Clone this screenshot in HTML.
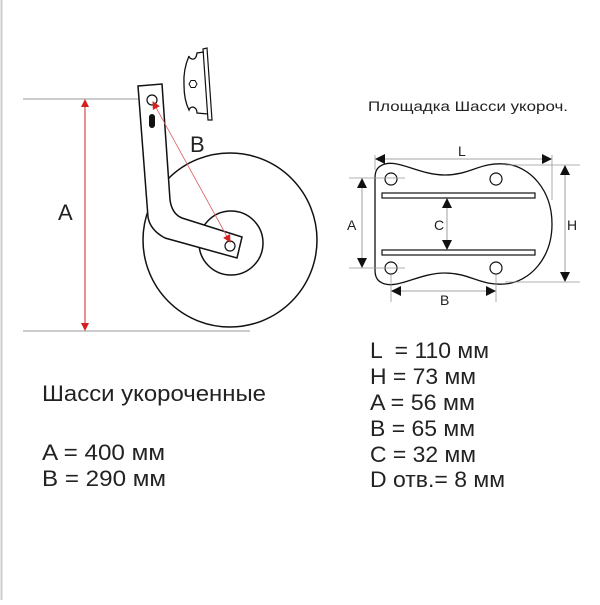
<!DOCTYPE html>
<html><head><meta charset="utf-8"><style>
body{margin:0;background:#fff}
svg text{font-family:"Liberation Sans",sans-serif;fill:#222}
</style></head><body>
<svg width="600" height="600" viewBox="0 0 600 600" xmlns="http://www.w3.org/2000/svg">
<defs>
<marker id="ra" markerWidth="8" markerHeight="8" refX="7" refY="4" orient="auto-start-reverse" markerUnits="userSpaceOnUse"><path d="M0,0 L8,4 L0,8z" fill="#d42020"/></marker>
<marker id="ba" markerWidth="10" markerHeight="10" refX="9" refY="5" orient="auto-start-reverse" markerUnits="userSpaceOnUse"><path d="M0,0 L10,5 L0,10z" fill="#111"/></marker>
</defs>
<line x1="1.5" y1="0" x2="1.5" y2="600" stroke="#ccc" stroke-width="2"/>
<line x1="23" y1="99" x2="150" y2="99" stroke="#999" stroke-width="1"/>
<line x1="23" y1="331" x2="250" y2="331" stroke="#999" stroke-width="1"/>
<line x1="85" y1="100" x2="85" y2="330" stroke="#d42020" stroke-width="1" marker-start="url(#ra)" marker-end="url(#ra)"/>
<text x="58" y="220" font-size="22">A</text>
<circle cx="230" cy="240" r="87" fill="#fff" stroke="#111" stroke-width="1.5"/>
<circle cx="231" cy="243" r="32" fill="#fff" stroke="#111" stroke-width="1.5"/>
<path d="M138,86 L162,84 L170,200 Q172,214 182,218 L242,237 L237,258 L165,238 Q150,230 148,217 Z" fill="#fff" stroke="#111" stroke-width="1.5"/>
<circle cx="152" cy="100" r="5" fill="#fff" stroke="#111" stroke-width="1.2"/>
<rect x="149" y="114" width="6" height="14" rx="3" fill="#111"/>
<circle cx="230" cy="246" r="5" fill="#fff" stroke="#111" stroke-width="1.2"/>
<line x1="153" y1="102" x2="230" y2="242" stroke="#e06060" stroke-width="0.8" marker-start="url(#ra)" marker-end="url(#ra)"/>
<text x="190" y="152" font-size="22">B</text>
<path d="M203,49 L207,48 L212,120 L208,120 Z" fill="#fff" stroke="#111" stroke-width="1.2"/>
<path d="M204,52 L197,53 Q196,60 192,59 Q189,58 189,56 Q183,70 184,85 Q184,100 189,110 Q190,107 193,107 Q197,108 197,113 L208,114" fill="none" stroke="#111" stroke-width="1.3"/>
<polygon points="189,84 191,80.5 195,80.5 197,84 195,87.5 191,87.5" fill="#fff" stroke="#111" stroke-width="1"/>
<text x="368" y="111" font-size="14" textLength="200" lengthAdjust="spacingAndGlyphs">Площадка Шасси укороч.</text>
<path d="M385,164 C400,160 420,175 445,175 C470,175 480,162 505,164 C530,166 552,190 552,224 C552,258 530,282 505,284 C480,286 470,273 445,273 C420,273 400,288 385,284 C378,282 375,278 375,270 L375,178 C375,170 378,166 385,164 Z" fill="#fff" stroke="#111" stroke-width="1.3"/>
<circle cx="391" cy="179" r="6" fill="#fff" stroke="#111" stroke-width="1.2"/>
<circle cx="496" cy="179" r="6" fill="#fff" stroke="#111" stroke-width="1.2"/>
<circle cx="391" cy="268" r="6" fill="#fff" stroke="#111" stroke-width="1.2"/>
<circle cx="496" cy="268" r="6" fill="#fff" stroke="#111" stroke-width="1.2"/>
<rect x="382" y="193" width="153" height="5" fill="#fff" stroke="#111" stroke-width="1.2"/>
<rect x="382" y="250" width="153" height="5" fill="#fff" stroke="#111" stroke-width="1.2"/>
<line x1="375" y1="155" x2="375" y2="170" stroke="#999" stroke-width="0.8"/>
<line x1="552" y1="155" x2="552" y2="200" stroke="#999" stroke-width="0.8"/>
<line x1="376" y1="159" x2="551" y2="159" stroke="#888" stroke-width="0.8" marker-start="url(#ba)" marker-end="url(#ba)"/>
<text x="458" y="156" font-size="14">L</text>
<line x1="505" y1="165" x2="580" y2="165" stroke="#999" stroke-width="0.8"/>
<line x1="505" y1="282" x2="580" y2="282" stroke="#999" stroke-width="0.8"/>
<line x1="565" y1="166" x2="565" y2="281" stroke="#888" stroke-width="0.8" marker-start="url(#ba)" marker-end="url(#ba)"/>
<text x="567" y="230" font-size="14">H</text>
<line x1="349" y1="178" x2="405" y2="178" stroke="#999" stroke-width="0.8"/>
<line x1="349" y1="268" x2="405" y2="268" stroke="#999" stroke-width="0.8"/>
<line x1="362" y1="179" x2="362" y2="267" stroke="#888" stroke-width="0.8" marker-start="url(#ba)" marker-end="url(#ba)"/>
<text x="347" y="230" font-size="14">A</text>
<line x1="447" y1="199" x2="447" y2="249" stroke="#888" stroke-width="0.8" marker-start="url(#ba)" marker-end="url(#ba)"/>
<text x="434" y="230" font-size="14">C</text>
<line x1="391" y1="275" x2="391" y2="302" stroke="#999" stroke-width="0.8"/>
<line x1="496" y1="275" x2="496" y2="302" stroke="#999" stroke-width="0.8"/>
<line x1="392" y1="291" x2="495" y2="291" stroke="#888" stroke-width="0.8" marker-start="url(#ba)" marker-end="url(#ba)"/>
<text x="440" y="305" font-size="14">B</text>
<text x="42" y="401" font-size="22" textLength="224" lengthAdjust="spacingAndGlyphs">Шасси укороченные</text>
<text x="42" y="460" font-size="22" textLength="123" lengthAdjust="spacingAndGlyphs">A = 400 мм</text>
<text x="42" y="486" font-size="22" textLength="124" lengthAdjust="spacingAndGlyphs">B = 290 мм</text>
<text x="370" y="358" font-size="22" xml:space="preserve" textLength="119" lengthAdjust="spacingAndGlyphs">L  = 110 мм</text>
<text x="370" y="384" font-size="22" textLength="106" lengthAdjust="spacingAndGlyphs">H = 73 мм</text>
<text x="370" y="410" font-size="22" textLength="105" lengthAdjust="spacingAndGlyphs">A = 56 мм</text>
<text x="370" y="436" font-size="22" textLength="105" lengthAdjust="spacingAndGlyphs">B = 65 мм</text>
<text x="370" y="462" font-size="22" textLength="106" lengthAdjust="spacingAndGlyphs">C = 32 мм</text>
<text x="370" y="487" font-size="22" textLength="135" lengthAdjust="spacingAndGlyphs">D отв.= 8 мм</text>
</svg>
</body></html>
